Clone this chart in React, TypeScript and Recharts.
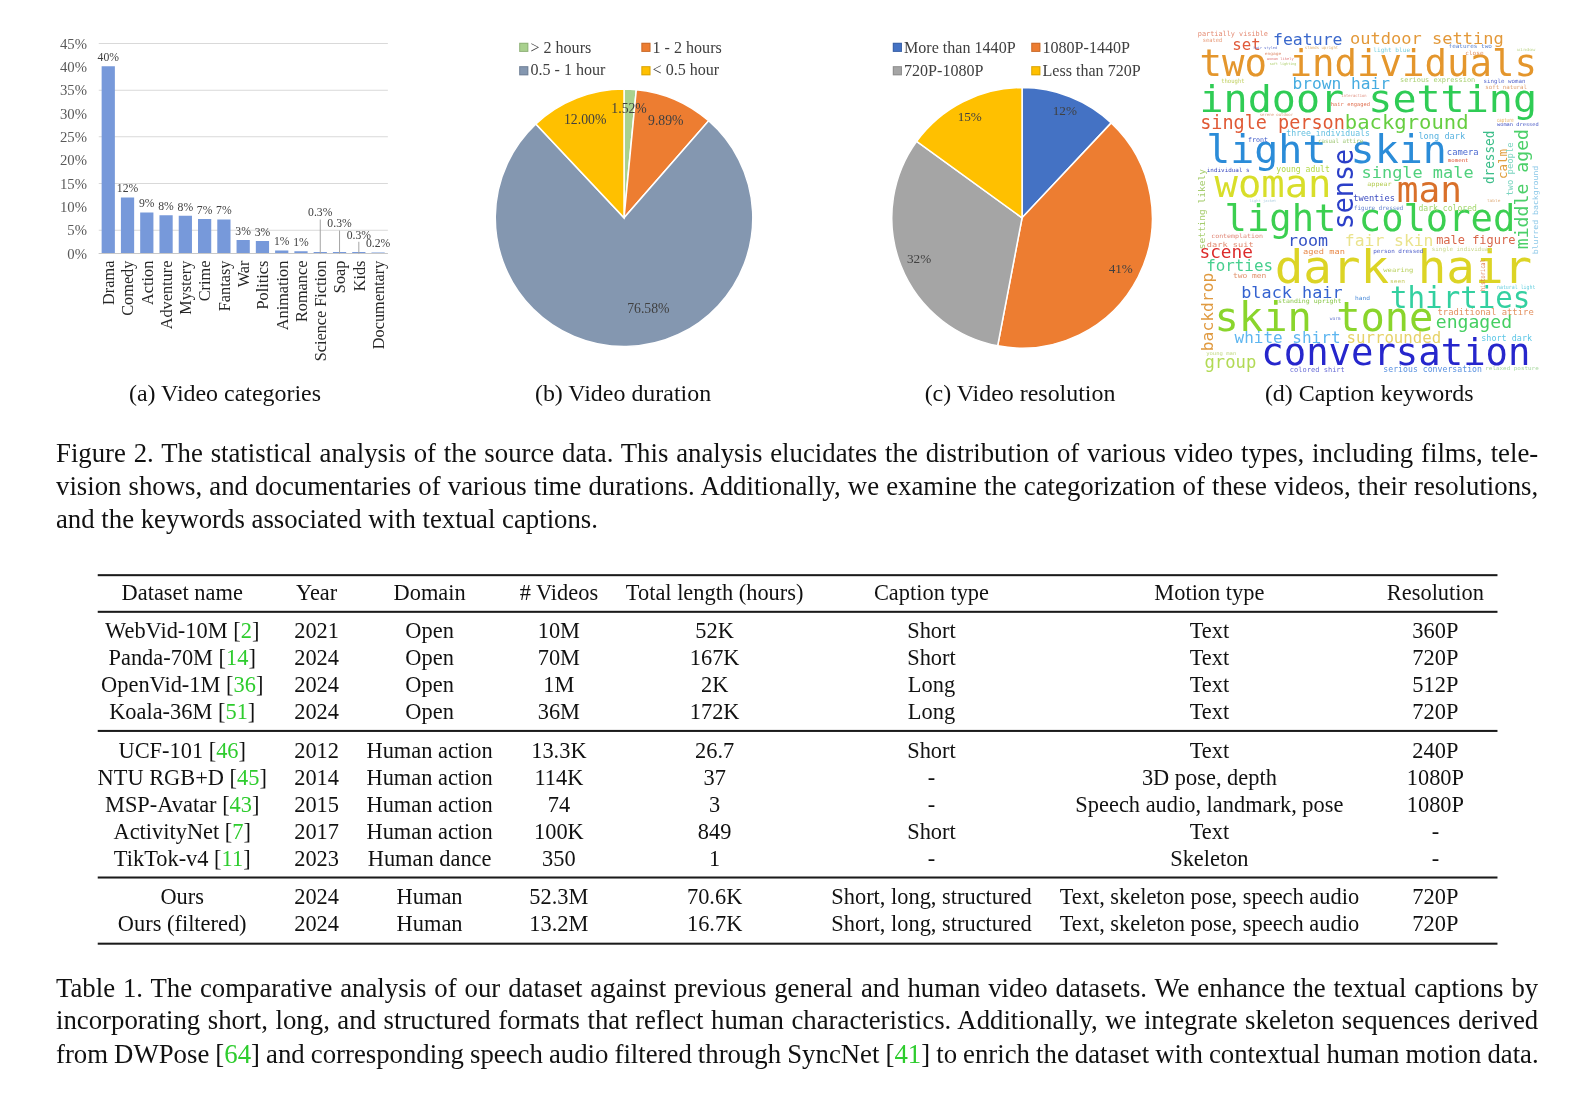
import React from "react";
import { BarChart, Bar, XAxis, YAxis, CartesianGrid, LabelList, PieChart, Pie, Cell } from "recharts";

// (a) video categories
const CATEGORIES = ["Drama", "Comedy", "Action", "Adventure", "Mystery", "Crime", "Fantasy", "War", "Politics", "Animation", "Romance", "Science Fiction", "Soap", "Kids", "Documentary"];
const CATEGORY_SHARE = [40.1, 12.0, 8.8, 8.2, 8.1, 7.4, 7.3, 2.9, 2.65, 0.65, 0.5, 0.3, 0.3, 0.3, 0.2];
const CATEGORY_LABELS = ["40%", "12%", "9%", "8%", "8%", "7%", "7%", "3%", "3%", "1%", "1%", "0.3%", "0.3%", "0.3%", "0.2%"];
const SHARE_TICKS = [0, 5, 10, 15, 20, 25, 30, 35, 40, 45];

// (b) video duration
const DURATION_NAMES = ["> 2 hours", "1 - 2 hours", "0.5 - 1 hour", "< 0.5 hour"];
const DURATION_SHARE = [1.52, 9.89, 76.58, 12.0];
const DURATION_COLORS = ["#A9D18E", "#ED7D31", "#8497B0", "#FFC000"];

// (c) video resolution
const RES_NAMES = ["More than 1440P", "1080P-1440P", "720P-1080P", "Less than 720P"];
const RES_SHARE = [12, 41, 32, 15];
const RES_COLORS = ["#4472C4", "#ED7D31", "#A5A5A5", "#FFC000"];

// table 1
const TABLE_HEADERS = ["Dataset name", "Year", "Domain", "# Videos", "Total length (hours)", "Caption type", "Motion type", "Resolution"];
const DATASET_NAMES = ["WebVid-10M", "Panda-70M", "OpenVid-1M", "Koala-36M", "UCF-101", "NTU RGB+D", "MSP-Avatar", "ActivityNet", "TikTok-v4", "Ours", "Ours (filtered)"];
const DATASET_CITES = ["2", "14", "36", "51", "46", "45", "43", "7", "11", "", ""];
const YEARS = ["2021", "2024", "2024", "2024", "2012", "2014", "2015", "2017", "2023", "2024", "2024"];
const DOMAINS = ["Open", "Open", "Open", "Open", "Human action", "Human action", "Human action", "Human action", "Human dance", "Human", "Human"];
const VIDEO_COUNTS = ["10M", "70M", "1M", "36M", "13.3K", "114K", "74", "100K", "350", "52.3M", "13.2M"];
const TOTAL_HOURS = ["52K", "167K", "2K", "172K", "26.7", "37", "3", "849", "1", "70.6K", "16.7K"];
const CAPTION_TYPES = ["Short", "Short", "Long", "Long", "Short", "-", "-", "Short", "-", "Short, long, structured", "Short, long, structured"];
const MOTION_TYPES = ["Text", "Text", "Text", "Text", "Text", "3D pose, depth", "Speech audio, landmark, pose", "Text", "Skeleton", "Text, skeleton pose, speech audio", "Text, skeleton pose, speech audio"];
const RESOLUTIONS = ["360P", "720P", "512P", "720P", "240P", "1080P", "1080P", "-", "-", "720P", "720P"];

const SERIF = '"Liberation Serif", "Times New Roman", serif';
const MONO = '"DejaVu Sans Mono", monospace';
const CITE = "#2ECC2E";
const S = 1.018;

// word cloud layout (local 1335x1200 box): text, x, y, size, colour, length, rotated
const CLOUD: [string, number, number, number, string, number, boolean?][] = [
  ["two individuals", 150, 183, 112, "#E4962C", 1010],
  ["indoor setting", 150, 288, 112, "#2FCC55", 1010],
  ["single person", 152, 340, 56, "#E05A36", 433],
  ["background", 585, 340, 60, "#66CE40", 370],
  ["light skin", 170, 443, 118, "#2B8CD8", 720],
  ["woman", 195, 545, 112, "#D8DE2A", 350],
  ["man", 740, 560, 108, "#D9702A", 195],
  ["light colored", 225, 645, 112, "#3BCF50", 870],
  ["dark hair", 375, 800, 140, "#DCD425", 770],
  ["skin tone", 195, 945, 120, "#8AD52C", 655],
  ["thirties", 720, 875, 88, "#33D0A0", 420],
  ["conversation", 335, 1045, 112, "#2626CC", 805],
  ["outdoor setting", 600, 85, 50, "#E3993A", 460],
  ["feature", 370, 88, 50, "#3A68CC", 208],
  ["set", 248, 105, 48, "#E05A3A", 85],
  ["brown hair", 428, 222, 48, "#46ACE0", 292],
  ["single male", 635, 487, 50, "#4FD07C", 335],
  ["room", 415, 690, 50, "#3552C5", 120],
  ["fair skin", 585, 690, 48, "#EAE38C", 265],
  ["male figure", 858, 685, 36, "#D8664A", 237],
  ["scene", 150, 725, 54, "#DC2A2A", 160],
  ["forties", 170, 765, 48, "#46CF8E", 200],
  ["black hair", 275, 845, 50, "#3462D0", 303],
  ["engaged", 857, 935, 54, "#45CF62", 228],
  ["white shirt", 255, 980, 48, "#5EB6F0", 317],
  ["surrounded", 590, 980, 48, "#E6D268", 283],
  ["group", 165, 1055, 52, "#B2DA55", 155],
  ["traditional attire", 862, 898, 27, "#E39262", 288],
  ["short dark", 993, 975, 26, "#5CC6E6", 152],
  ["serious conversation", 700, 1068, 24, "#5A92E0", 295],
  ["colored shirt", 420, 1068, 21, "#6A6ED6", 165],
  ["twenties", 610, 557, 26, "#3C4CC0", 125],
  ["figure dressed", 612, 582, 18, "#6A88D0", 148],
  ["dark colored", 805, 585, 24, "#A4D86E", 175],
  ["young adult", 380, 470, 24, "#B2D846", 160],
  ["three individuals", 410, 362, 24, "#66C0E0", 250],
  ["long dark", 805, 370, 26, "#5BB4E0", 140],
  ["camera", 890, 418, 25, "#4A68D0", 95],
  ["front", 295, 380, 20, "#3C58C8", 60],
  ["casual attire", 505, 382, 18, "#A0C878", 135],
  ["partially visible", 145, 62, 21, "#E48A72", 210],
  ["seated", 160, 80, 17, "#E89A78", 58],
  ["serious expression", 750, 200, 20, "#A8D070", 225],
  ["single woman", 1000, 203, 17, "#5566CC", 125],
  ["soft natural", 1005, 222, 17, "#E0A070", 125],
  ["features two", 895, 97, 17, "#5680D0", 130],
  ["light blue", 670, 110, 18, "#7AD0E0", 110],
  ["close", 945, 120, 17, "#E09060", 55],
  ["thought", 215, 202, 18, "#C0D060", 70],
  ["hair engaged", 543, 272, 16, "#E07050", 117],
  ["capture", 1040, 318, 17, "#E6B060", 50],
  ["woman dressed", 1040, 332, 15, "#4454C4", 125],
  ["individual s", 172, 468, 17, "#3848C0", 128],
  ["moment", 893, 440, 15, "#E05030", 62],
  ["appear", 652, 512, 18, "#B4CC50", 73],
  ["contemplation", 185, 666, 18, "#E08878", 155],
  ["dark suit", 172, 692, 21, "#E0886E", 140],
  ["aged man", 460, 713, 22, "#E88A4A", 125],
  ["person dressed", 670, 712, 17, "#4A5AC8", 150],
  ["single individual", 845, 706, 17, "#C8D88A", 180],
  ["two men", 250, 786, 22, "#E0906A", 100],
  ["wearing", 700, 768, 18, "#B8D05A", 90],
  ["standing upright", 385, 862, 18, "#8AC84A", 190],
  ["hand", 615, 852, 17, "#4A8AD8", 45],
  ["natural light", 1040, 820, 17, "#6AD0E0", 115],
  ["young man", 170, 1015, 15, "#C0D880", 90],
  ["relaxed posture", 1005, 1062, 16, "#A8D8A0", 160],
  ["warm", 540, 912, 14, "#6A7AD0", 32],
  ["seen", 720, 800, 16, "#C8CC60", 45],
  ["hair styled", 312, 100, 11, "#6A7AD0", 70],
  ["engage", 345, 118, 12, "#E09070", 50],
  ["stands upright", 465, 100, 12, "#E0B070", 100],
  ["soft lighting", 360, 150, 11, "#B0D070", 80],
  ["woman likely", 352, 135, 11, "#E08080", 80],
  ["serene outdoor", 330, 300, 12, "#E0A080", 100],
  ["interaction", 575, 245, 12, "#E09080", 75],
  ["light jacket", 300, 560, 11, "#B0D0E0", 80],
  ["window", 1100, 108, 12, "#C0D890", 55],
  ["table", 1010, 558, 12, "#E0B080", 40],
  ["sense", 610, 640, 85, "#2B3FC8", 240, true],
  ["dressed", 1030, 505, 42, "#3DBE8A", 160, true],
  ["calm", 1070, 490, 38, "#E0A040", 90, true],
  ["middle aged", 1132, 700, 52, "#4CD06A", 360, true],
  ["two people", 1088, 540, 24, "#7BD4C0", 160, true],
  ["blurred background", 1162, 715, 22, "#8CC8E8", 265, true],
  ["backdrop", 190, 1005, 48, "#E09A40", 235, true],
  ["setting likely", 168, 700, 24, "#A6CD6E", 240, true],
  ["historical", 1003, 825, 19, "#E07A4A", 95, true],
];

const LEADER_LIFT: Record<number, number> = { 11: 36.5, 12: 25.6, 13: 14.5 };

const categoryData = CATEGORIES.map((name, i) => ({ name, share: CATEGORY_SHARE[i], label: CATEGORY_LABELS[i] }));
const durationData = DURATION_NAMES.map((name, i) => ({ name, value: DURATION_SHARE[i] }));
const resolutionData = RES_NAMES.map((name, i) => ({ name, value: RES_SHARE[i] }));

const CategoryTick = ({ x, y, payload }: any) => (
  <text x={x} y={y} transform={`rotate(-90, ${x}, ${y})`} textAnchor="end" dy="0.35em" fontSize={16} fill="#262626" fontFamily={SERIF}>
    {payload.value}
  </text>
);

const BarValueLabel = (p: any) => {
  const vb = p.viewBox || {};
  const x = (vb.x ?? p.x) + (vb.width ?? p.width) / 2;
  const top = vb.y ?? p.y;
  const base = top + (vb.height ?? p.height);
  const lift = LEADER_LIFT[p.index];
  if (lift !== undefined) {
    const ty = base - lift;
    return (
      <g>
        <line x1={x} x2={x} y1={ty + 3} y2={base} stroke="#A6A6A6" strokeWidth={1} />
        <text x={x} y={ty} textAnchor="middle" fontSize={11.5} fill="#404040" fontFamily={SERIF}>{p.value}</text>
      </g>
    );
  }
  return (
    <text x={x} y={top - 5} textAnchor="middle" fontSize={11.5} fill="#404040" fontFamily={SERIF}>{p.value}</text>
  );
};

const RAD = Math.PI / 180;
const pieLabel = (values: number[], fmt: (v: number) => string, factor: number, size: number, nudge: Record<number, number[]>) => (p: any) => {
  const r = p.outerRadius * factor;
  const n = nudge[p.index] || [0, 0];
  const x = p.cx + r * Math.cos(-p.midAngle * RAD) + n[0];
  const y = p.cy + r * Math.sin(-p.midAngle * RAD) + n[1];
  return (
    <text x={x} y={y} textAnchor="middle" dominantBaseline="central" fontSize={size} fill="#404040" fontFamily={SERIF}>
      {fmt(values[p.index])}
    </text>
  );
};

const Legend2x2 = ({ names, colors, cols, rows }: { names: string[]; colors: string[]; cols: number[]; rows: number[] }) => (
  <>
    {names.map((n, i) => (
      <div key={n} style={{ position: "absolute", left: cols[i % 2], top: rows[Math.floor(i / 2)] - 10, height: 20, display: "flex", alignItems: "center", fontSize: 15.8, color: "#404040", whiteSpace: "nowrap" }}>
        <span style={{ width: 7, height: 7, background: colors[i], border: "1px solid rgba(0,0,0,0.15)", marginRight: 2 }} />
        {n}
      </div>
    ))}
  </>
);

const Cite = ({ n }: { n: string }) => <span style={{ color: CITE }}>{n}</span>;

const SUBCAPTIONS = ["(a) Video categories", "(b) Video duration", "(c) Video resolution", "(d) Caption keywords"];
const SUBCAPTION_X = [221, 612, 1002, 1345];
const COL_X = [179, 311, 422, 549, 702, 915, 1188, 1410];
const ROW_Y = [620, 646, 673, 699, 738, 764, 791, 817, 844, 881, 908];
const RULES: [number, number][] = [[565, 1.8], [601, 1.1], [718, 1.1], [862, 1.1], [927, 1.8]];

const lineStyle = (top: number, justify: boolean, wordSpacing = 0): React.CSSProperties => ({
  position: "absolute", left: 55, top, width: 1456, height: 32.5, lineHeight: "32.5px", fontSize: 26.3, wordSpacing,
  whiteSpace: "nowrap", textAlign: justify ? "justify" : "left", textAlignLast: justify ? "justify" : "left", color: "#111",
});

export default function App() {
  const cell = (text: React.ReactNode, cx: number, cy: number, key: string) => (
    <div key={key} style={{ position: "absolute", left: cx - 220, width: 440, top: cy - 13, lineHeight: "26px", textAlign: "center", fontSize: 22, whiteSpace: "nowrap" }}>
      {text}
    </div>
  );
  const rows = DATASET_NAMES.map((name, i) => [
    DATASET_CITES[i] ? <>{name} [<Cite n={DATASET_CITES[i]} />]</> : name,
    YEARS[i], DOMAINS[i], VIDEO_COUNTS[i], TOTAL_HOURS[i], CAPTION_TYPES[i], MOTION_TYPES[i], RESOLUTIONS[i],
  ]);

  return (
    <div style={{ position: "absolute", left: 0, top: 0, width: 1595, height: 1101, overflow: "hidden", background: "#fff" }}>
      <div style={{ position: "absolute", left: 0, top: 0, width: 1568, height: 1082, transform: `scale(${S})`, transformOrigin: "0 0", fontFamily: SERIF, color: "#111" }}>
        {/* (a) */}
        <div style={{ position: "absolute", left: 40, top: 30 }}>
          <BarChart width={345} height={340} data={categoryData} margin={{ top: 12.7, right: 4, bottom: 0, left: 0 }} barCategoryGap="15%">
            <CartesianGrid vertical={false} stroke="#D9D9D9" />
            <XAxis dataKey="name" interval={0} height={121} tickSize={0} tickMargin={7} tickLine={false} axisLine={{ stroke: "#C8C8C8" }} tick={<CategoryTick />} />
            <YAxis domain={[0, 45]} ticks={SHARE_TICKS} width={57} tickSize={0} tickMargin={11.6} axisLine={false} tickLine={false}
              tickFormatter={(v) => `${v}%`} tick={{ fontSize: 14.5, fill: "#595959", fontFamily: SERIF }} />
            <Bar dataKey="share" fill="#7799DA" isAnimationActive={false}>
              <LabelList dataKey="label" content={BarValueLabel} />
            </Bar>
          </BarChart>
        </div>

        {/* (b) */}
        <Legend2x2 names={DURATION_NAMES} colors={DURATION_COLORS} cols={[510, 630]} rows={[46.6, 69]} />
        <div style={{ position: "absolute", left: 472.5, top: 73.5 }}>
          <PieChart width={280} height={280} margin={{ top: 0, right: 0, bottom: 0, left: 0 }}>
            <Pie data={durationData} dataKey="value" cx={140} cy={140} outerRadius={126.5} startAngle={90} endAngle={-270}
              stroke="#fff" strokeWidth={1.5} labelLine={false} isAnimationActive={false}
              label={pieLabel(DURATION_SHARE, (v) => `${v.toFixed(2)}%`, 0.82, 13.5, { 0: [0, -4], 2: [22, -15] })}>
              {durationData.map((d, i) => <Cell key={d.name} fill={DURATION_COLORS[i]} />)}
            </Pie>
          </PieChart>
        </div>

        {/* (c) */}
        <Legend2x2 names={RES_NAMES} colors={RES_COLORS} cols={[877, 1013]} rows={[46.6, 69.7]} />
        <div style={{ position: "absolute", left: 864, top: 73.5 }}>
          <PieChart width={280} height={280} margin={{ top: 0, right: 0, bottom: 0, left: 0 }}>
            <Pie data={resolutionData} dataKey="value" cx={140} cy={140} outerRadius={128} startAngle={90} endAngle={-270}
              stroke="#fff" strokeWidth={1.5} labelLine={false} isAnimationActive={false}
              label={pieLabel(RES_SHARE, (v) => `${v}%`, 0.85, 13, { 0: [2, -4], 3: [-2, -3] })}>
              {resolutionData.map((d, i) => <Cell key={d.name} fill={RES_COLORS[i]} />)}
            </Pie>
          </PieChart>
        </div>

        {/* (d) */}
        <svg style={{ position: "absolute", left: 1129, top: 14.8 }} width={438.4} height={394.1} viewBox="0 0 1335 1200">
          {CLOUD.map(([t, x, y, size, color, len, rot]) => (
            <text key={t} x={x} y={y} fontSize={size} fill={color} fontFamily={MONO} textLength={len} lengthAdjust="spacingAndGlyphs"
              transform={rot ? `rotate(-90 ${x} ${y})` : undefined}>
              {t}
            </text>
          ))}
        </svg>

        {SUBCAPTIONS.map((c, i) => (
          <div key={c} style={{ position: "absolute", left: SUBCAPTION_X[i] - 150, width: 300, top: 373, lineHeight: "26px", textAlign: "center", fontSize: 23.5 }}>{c}</div>
        ))}

        <div style={lineStyle(429.75, true)}>Figure 2. The statistical analysis of the source data. This analysis elucidates the distribution of various video types, including films, tele-</div>
        <div style={lineStyle(462.25, true)}>vision shows, and documentaries of various time durations. Additionally, we examine the categorization of these videos, their resolutions,</div>
        <div style={lineStyle(494.75, false)}>and the keywords associated with textual captions.</div>

        {RULES.map(([y, w]) => (
          <div key={y} style={{ position: "absolute", left: 96, width: 1375, top: y - w / 2, height: w, background: "#1a1a1a" }} />
        ))}
        {TABLE_HEADERS.map((h, j) => cell(h, COL_X[j], 582, `h${j}`))}
        {rows.map((r, i) => r.map((v, j) => cell(v, COL_X[j], ROW_Y[i], `c${i}-${j}`)))}

        <div style={lineStyle(954.75, true)}>Table 1. The comparative analysis of our dataset against previous general and human video datasets. We enhance the textual captions by</div>
        <div style={lineStyle(987.25, true)}>incorporating short, long, and structured formats that reflect human characteristics. Additionally, we integrate skeleton sequences derived</div>
        <div style={lineStyle(1019.75, true, -0.6)}>from DWPose [<Cite n="64" />] and corresponding speech audio filtered through SyncNet [<Cite n="41" />] to enrich the dataset with contextual human motion data.</div>
      </div>
    </div>
  );
}
